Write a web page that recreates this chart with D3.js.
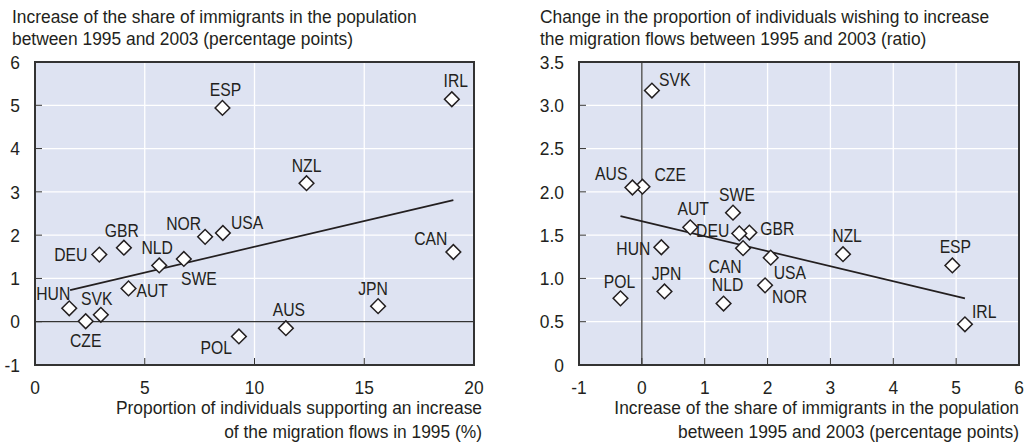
<!DOCTYPE html>
<meta charset="utf-8">
<head>
<script src="https://d3js.org/d3.v7.min.js"></script>
<style>
  body { margin: 0; background: #fff; }
  svg text { font-family: "Liberation Sans", Arial, sans-serif; fill: #231f20; }
</style>
</head>
<body>
<svg id="chart" width="1024" height="446"></svg>
</body>

<script>

// Country codes, in the same order for every array
var countries = ["ESP","IRL","NZL","CAN","USA","NOR","GBR","DEU","NLD","SWE","AUT","HUN","SVK","CZE","POL","AUS","JPN"];

// Proportion supporting an increase of migration flows in 1995 (%)
var support1995 = [8.54, 18.99, 12.37, 19.06, 8.56, 7.75, 4.05, 2.93, 5.66, 6.78, 4.26, 1.56, 3.0, 2.31, 9.29, 11.43, 15.63];

// Increase of the share of immigrants 1995-2003 (percentage points)
var immigShare = [4.94, 5.14, 3.20, 1.61, 2.05, 1.96, 1.71, 1.55, 1.30, 1.45, 0.77, 0.31, 0.16, 0.01, -0.34, -0.15, 0.36];

// Change in proportion wishing to increase flows 1995-2003 (ratio)
var ratioChange = [1.15, 0.47, 1.28, 1.35, 1.24, 0.92, 1.53, 1.52, 0.71, 1.76, 1.59, 1.36, 3.17, 2.06, 0.77, 2.05, 0.85];

// Trend lines, end points
var trendLeft = [[1.6, 0.73], [19.06, 2.81]];
var trendRight = [[-0.34, 1.72], [5.14, 0.77]];

// ticks
var leftXTicks = [0, 5, 10, 15, 20];
var leftYTicks = [-1, 0, 1, 2, 3, 4, 5, 6];
var rightXTicks = [-1, 0, 1, 2, 3, 4, 5, 6];
var rightYTicks = [0, 0.5, 1.0, 1.5, 2.0, 2.5, 3.0, 3.5];

// label placement (dx, dy from the marker, anchor)
var leftLabels = {
  ESP: [3, -19, "middle"], IRL: [4, -19, "middle"], NZL: [0, -18, "middle"], CAN: [-6, -14, "end"],
  USA: [8, -11, "start"], NOR: [-4, -14, "end"], GBR: [-2, -17, "middle"], DEU: [-12, 0, "end"],
  NLD: [-2, -18, "middle"], SWE: [15, 19, "middle"], AUT: [8, 2, "start"], HUN: [1, -15, "end"],
  SVK: [-4, -16, "middle"], CZE: [0, 19, "middle"], POL: [-7, 11, "end"], AUS: [3, -19, "middle"],
  JPN: [-5, -18, "middle"]
};
var rightLabels = {
  SVK: [7, -11, "start"], AUS: [-5, -14, "end"], CZE: [12, -12, "start"], SWE: [4, -18, "middle"],
  AUT: [3, -19, "middle"], DEU: [-10, -3, "end"], GBR: [11, -4, "start"], HUN: [-11, 1, "end"],
  CAN: [-18, 18, "middle"], NLD: [4, -19, "middle"], USA: [3, 15, "start"], NOR: [7, 11, "start"],
  NZL: [4, -19, "middle"], ESP: [3, -19, "middle"], IRL: [7, -13, "start"], JPN: [2, -18, "middle"],
  POL: [-1, -17, "middle"]
};

var svg = d3.select("#chart");
var fs = 18.5;  // font size
var sx = 0.94;  // horizontal squeeze, the original uses a narrow face
var sxLab = 0.85; // country codes are narrower still

// text helper: squeezed text placed at x,y
function txt(g, x, y, s, anchor, dy, k) {
  return g.append("text")
    .attr("transform", "translate(" + x + "," + y + ") scale(" + (k || sx) + ",1)")
    .attr("text-anchor", anchor || "start")
    .attr("dy", dy || 0)
    .style("font-size", fs + "px")
    .text(s);
}

function panel(o) {
  var g = svg.append("g");
  var x = d3.scaleLinear().domain(o.xDomain).range([o.x0, o.x1]);
  var y = d3.scaleLinear().domain(o.yDomain).range([o.y1, o.y0]);

  // title
  o.title.forEach(function(t, i) { txt(g, o.titleX, 22.5 + i * 22.5, t); });

  // background
  g.append("rect")
    .attr("x", o.x0).attr("y", o.y0)
    .attr("width", o.x1 - o.x0).attr("height", o.y1 - o.y0)
    .attr("fill", "#dee3f2");

  // grid
  g.selectAll(".gx").data(o.xTicks).enter().append("line")
    .attr("x1", function(d) { return x(d); }).attr("x2", function(d) { return x(d); })
    .attr("y1", o.y0).attr("y2", o.y1)
    .attr("stroke", "#fff").attr("stroke-width", 1.3);
  g.selectAll(".gy").data(o.yTicks).enter().append("line")
    .attr("x1", o.x0).attr("x2", o.x1)
    .attr("y1", function(d) { return y(d); }).attr("y2", function(d) { return y(d); })
    .attr("stroke", "#fff").attr("stroke-width", 1.3);

  // small ticks inside the frame
  g.selectAll(".tx").data(o.xTicks).enter().append("line")
    .attr("x1", function(d) { return x(d); }).attr("x2", function(d) { return x(d); })
    .attr("y1", o.y1 - 7).attr("y2", o.y1)
    .attr("stroke", "#333").attr("stroke-width", 1);
  g.selectAll(".ty").data(o.yTicks).enter().append("line")
    .attr("x1", o.x0).attr("x2", o.x0 + 7)
    .attr("y1", function(d) { return y(d); }).attr("y2", function(d) { return y(d); })
    .attr("stroke", "#333").attr("stroke-width", 1);

  // zero line
  if (o.zero == "y") {
    g.append("line").attr("x1", o.x0).attr("x2", o.x1)
      .attr("y1", y(0)).attr("y2", y(0)).attr("stroke", "#333").attr("stroke-width", 1.2);
  } else {
    g.append("line").attr("x1", x(0)).attr("x2", x(0))
      .attr("y1", o.y0).attr("y2", o.y1).attr("stroke", "#333").attr("stroke-width", 1.2);
  }

  // frame
  g.append("rect")
    .attr("x", o.x0).attr("y", o.y0)
    .attr("width", o.x1 - o.x0).attr("height", o.y1 - o.y0)
    .attr("fill", "none").attr("stroke", "#333").attr("stroke-width", 2);

  // tick labels
  o.xTicks.forEach(function(d) { txt(g, x(d), o.y1 + 28.5, o.xFmt(d), "middle"); });
  o.yTicks.forEach(function(d) { txt(g, o.yLabelX, y(d), o.yFmt(d), "end", "0.36em"); });

  // axis title
  o.xTitle.forEach(function(t, i) { txt(g, o.x1 + o.xTitleDx, 414 + i * 23.5, t, "end"); });

  // trend
  g.append("path")
    .attr("d", d3.line().x(function(d) { return x(d[0]); }).y(function(d) { return y(d[1]); })(o.trend))
    .attr("stroke", "#231f20").attr("stroke-width", 1.7).attr("fill", "none");

  // markers
  var pts = countries.map(function(c, i) { return { c: c, x: o.xs[i], y: o.ys[i] }; });
  g.selectAll(".pt").data(pts).enter().append("path")
    .attr("d", d3.symbol().type(d3.symbolSquare).size(108))
    .attr("transform", function(d) { return "translate(" + x(d.x) + "," + y(d.y) + ") rotate(45)"; })
    .attr("fill", "#fff").attr("stroke", "#231f20").attr("stroke-width", 1.5);

  pts.forEach(function(d) {
    var l = o.labels[d.c];
    txt(g, x(d.x) + l[0], y(d.y) + l[1], d.c, l[2], "0.36em", sxLab);
  });
}

panel({
  x0: 35, x1: 474, y0: 62, y1: 365,
  xDomain: [0, 20], yDomain: [-1, 6],
  xTicks: leftXTicks, yTicks: leftYTicks,
  xFmt: String, yFmt: String,
  yLabelX: 20, titleX: 12, xTitleDx: 8,
  title: ["Increase of the share of immigrants in the population", "between 1995 and 2003 (percentage points)"],
  xTitle: ["Proportion of individuals supporting an increase", "of the migration flows in 1995 (%)"],
  xs: support1995, ys: immigShare, trend: trendLeft, labels: leftLabels, zero: "y"
});

panel({
  x0: 579, x1: 1019, y0: 62, y1: 365,
  xDomain: [-1, 6], yDomain: [0, 3.5],
  xTicks: rightXTicks, yTicks: rightYTicks,
  xFmt: String, yFmt: function(d) { return d == 0 ? "0" : d.toFixed(1); },
  yLabelX: 564, titleX: 540, xTitleDx: 0,
  title: ["Change in the proportion of individuals wishing to increase", "the migration flows between 1995 and 2003 (ratio)"],
  xTitle: ["Increase of the share of immigrants in the population", "between 1995 and 2003 (percentage points)"],
  xs: immigShare, ys: ratioChange, trend: trendRight, labels: rightLabels, zero: "x"
});

</script>
